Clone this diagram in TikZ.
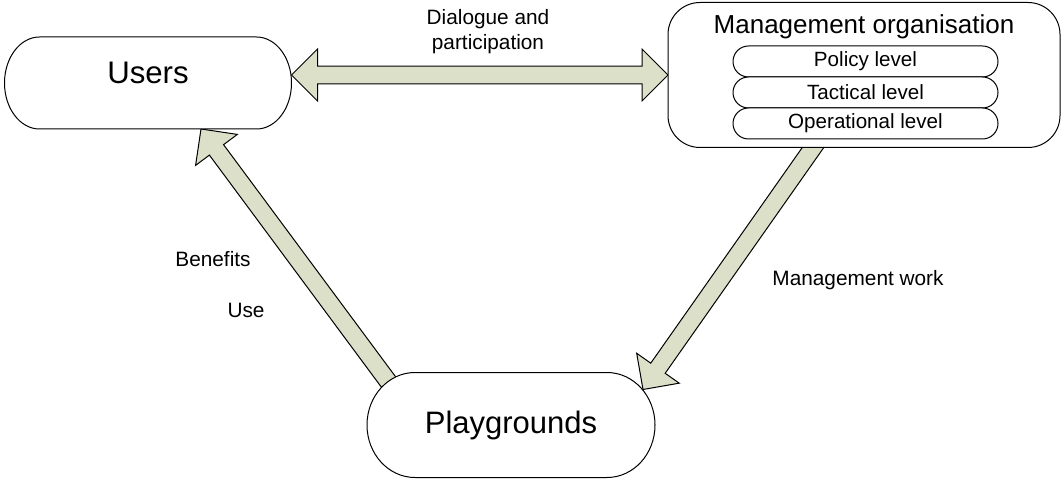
\documentclass[tikz,border=0pt]{standalone}
\usepackage{fontspec}
\setmainfont{Liberation Sans}
\usepackage{tikz}
\usetikzlibrary{calc,positioning}
\pgfdeclarelayer{bg}
\pgfsetlayers{bg,main}
\definecolor{arrowfill}{RGB}{221,224,201}
% block arrow from #1 (tail) to #2 (tip)
\newcommand{\blockArrow}[2]{
    \path ($(#2)!13pt!(#1)$) coordinate (hd);
    \filldraw[fill=arrowfill,draw=black,line width=0.5pt]
        ($(#1)!4.4pt!90:(#2)$) -- ($(hd)!4.4pt!-90:(#1)$) -- ($(hd)!13pt!-90:(#1)$) -- (#2)
        -- ($(hd)!13pt!90:(#1)$) -- ($(hd)!4.4pt!90:(#1)$) -- ($(#1)!4.4pt!-90:(#2)$) -- cycle;
}
% block arrow with a head at both ends
\newcommand{\blockDoubleArrow}[2]{
    \path ($(#1)!13pt!(#2)$) coordinate (hda) ($(#2)!13pt!(#1)$) coordinate (hdb);
    \filldraw[fill=arrowfill,draw=black,line width=0.5pt]
        (#1) -- ($(hda)!13pt!90:(#2)$) -- ($(hda)!4.4pt!90:(#2)$) -- ($(hdb)!4.4pt!-90:(#1)$)
        -- ($(hdb)!13pt!-90:(#1)$) -- (#2) -- ($(hdb)!13pt!90:(#1)$) -- ($(hdb)!4.4pt!90:(#1)$)
        -- ($(hda)!4.4pt!-90:(#2)$) -- ($(hda)!13pt!-90:(#2)$) -- cycle;
}
% outline of a box with elliptic corners: node, x radius, y radius
\newcommand{\pillOutline}[3]{
    \filldraw[fill=white,draw=black,line width=0.5pt]
        ($(#1.north west)+(#2,0)$) -- ($(#1.north east)+(-#2,0)$)
        arc[start angle=90,end angle=0,x radius=#2,y radius=#3]
        -- ($(#1.south east)+(0,#3)$)
        arc[start angle=0,end angle=-90,x radius=#2,y radius=#3]
        -- ($(#1.south west)+(#2,0)$)
        arc[start angle=-90,end angle=-180,x radius=#2,y radius=#3]
        -- ($(#1.north west)+(0,-#3)$)
        arc[start angle=180,end angle=90,x radius=#2,y radius=#3] -- cycle;
}
\begin{document}
\begin{tikzpicture}[x=0.5pt,y=0.5pt,
    box/.style={inner sep=0pt,outer sep=0pt},
    level/.style={box,minimum width=132.5pt,minimum height=15.5pt,font=\fontsize{10.3}{12}\selectfont},
    lbl/.style={inner sep=0pt,font=\fontsize{10.4}{12.5}\selectfont,align=center}]
            \useasboundingbox (0,0) rectangle (1064,-480);

            % --- Boxes ---
            \node[box,minimum width=143.5pt,minimum height=46pt,text depth=10pt,font=\fontsize{15.6}{18}\selectfont] (users) at (148,-83) {Users};
            \node[box,minimum width=196pt,minimum height=72.5pt] (mgmt) at (864,-75) {};
            \node[box,minimum width=144pt,minimum height=52.5pt,font=\fontsize{15.5}{18}\selectfont] (play) at (511,-425) {Playgrounds};

            \node[inner sep=0pt,font=\fontsize{13}{15}\selectfont] (mgmtTitle) at (864,-27) {Management organisation};
            \node[level] (policy) at ($(mgmt.center)+(1.5,13.5)$) {Policy level};
            \node[level,below=0pt of policy] (tactical) {Tactical level};
            \node[level,below=0pt of tactical] (operational) {Operational level};

            % Arrow ends
            \coordinate (useTip) at ($(users.south)+(53,0)$);
            \coordinate (useTail) at ($(play.north west)+(33,-25)$);
            \coordinate (workTip) at ($(play.north east)+(-12,-17)$);

            \begin{pgfonlayer}{bg}
                % Arrows (behind the boxes)
                \blockDoubleArrow{users.east |- mgmt.west}{mgmt.west}
                \blockArrow{useTail}{useTip}
                \blockArrow{mgmt.center}{workTip}
                % Outlines
                \pillOutline{users}{35}{46}
                \pillOutline{mgmt}{32}{32}
                \pillOutline{play}{48}{52.5}
                \pillOutline{policy}{15.5}{15.5}
                \pillOutline{tactical}{15.5}{15.5}
                \pillOutline{operational}{15.5}{15.5}
            \end{pgfonlayer}

            % Labels
            \node[lbl] (dialogue) at (488,-32) {Dialogue and\\participation};
            \node[lbl] (benefits) at (213,-259) {Benefits};
            \node[lbl] (use) at (246,-310) {Use};
            \node[lbl] (work) at (858,-280) {Management work};

        \end{tikzpicture}
\end{document}
